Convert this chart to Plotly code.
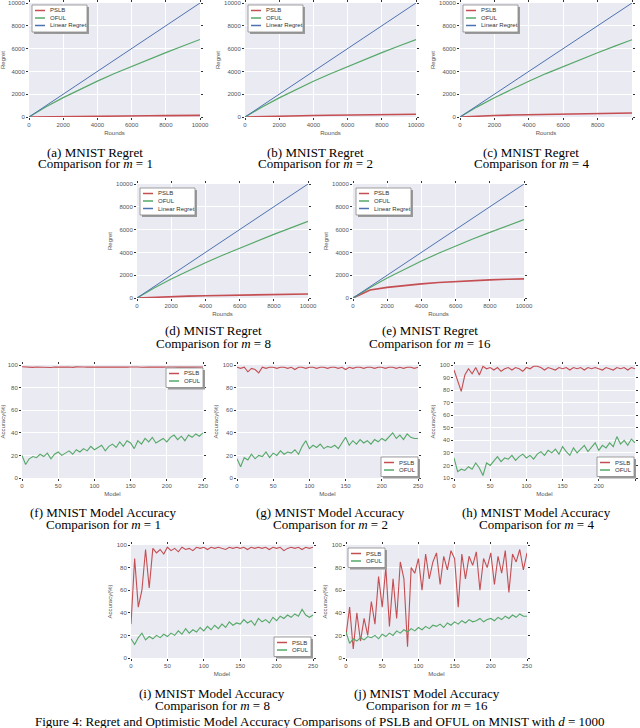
import plotly.graph_objects as go

W, H = 640, 728

# ---- regret data (rounds 0..10000) ----
rounds = [0, 1000, 2000, 3000, 4000, 5000, 6000, 7000, 8000, 9000, 10000]
linear_regret = [0, 1000, 2000, 3000, 4000, 5000, 6000, 7000, 8000, 9000, 10000]

pslb_regret_m1 = [0, 25, 45, 60, 75, 88, 100, 110, 120, 130, 140]
pslb_regret_m2 = [0, 50, 85, 110, 135, 155, 175, 195, 210, 225, 240]
pslb_regret_m4 = [0, 80, 130, 170, 205, 235, 262, 288, 312, 335, 355]
pslb_regret_m8 = [0, 75, 125, 165, 200, 230, 258, 283, 307, 330, 350]
pslb_regret_m16 = [0, 700, 930, 1100, 1240, 1360, 1450, 1530, 1590, 1640, 1680]

oful_regret_m1 = [0, 900, 1700, 2450, 3150, 3820, 4450, 5060, 5650, 6230, 6800]
oful_regret_m2 = [0, 880, 1680, 2430, 3130, 3800, 4440, 5050, 5650, 6230, 6790]
oful_regret_m4 = [0, 890, 1690, 2440, 3140, 3810, 4440, 5050, 5640, 6220, 6780]
oful_regret_m8 = [0, 880, 1660, 2400, 3090, 3750, 4380, 4990, 5580, 6150, 6720]
oful_regret_m16 = [0, 930, 1760, 2530, 3250, 3920, 4560, 5170, 5760, 6330, 6870]

# ---- model accuracy data (every 5th model, 0..250) ----
models = [0, 5, 10, 15, 20, 25, 30, 35, 40, 45,
          50, 55, 60, 65, 70, 75, 80, 85, 90, 95,
          100, 105, 110, 115, 120, 125, 130, 135, 140, 145,
          150, 155, 160, 165, 170, 175, 180, 185, 190, 195,
          200, 205, 210, 215, 220, 225, 230, 235, 240, 245,
          250]

pslb_acc_m1 = [98.4, 98.1, 98.3, 97.9, 98.2, 98.0, 98.3, 98.1, 97.8, 98.2,
               98.0, 98.3, 98.1, 98.2, 97.9, 98.3, 98.0, 98.2, 98.1, 98.3,
               98.0, 98.2, 98.1, 97.9, 98.3, 98.1, 98.2, 98.0, 98.3, 98.1,
               98.2, 97.9, 98.2, 98.0, 98.3, 98.1, 98.2, 98.0, 98.3, 98.1,
               98.2, 97.9, 98.2, 98.1, 98.3, 98.0, 98.2, 98.1, 98.3, 98.0,
               98.2]
oful_acc_m1 = [20, 12, 17, 19, 18, 21, 19, 22, 17, 21,
               23, 20, 22, 24, 21, 25, 23, 26, 24, 28,
               25, 27, 29, 24, 28, 30, 27, 32, 28, 33,
               31, 26, 33, 30, 35, 32, 36, 31, 33, 35,
               32, 36, 38, 34, 37, 33, 38, 36, 39, 37,
               40]

pslb_acc_m2 = [98, 97, 98, 94, 97, 96, 93, 98, 97, 98,
               98, 97, 98, 98, 97, 98, 96, 98, 98, 97,
               98, 98, 97, 98, 98, 97, 98, 98, 97, 98,
               96, 98, 97, 98, 98, 97, 98, 98, 97, 98,
               98, 97, 98, 98, 97, 98, 97, 98, 98, 97,
               98]
oful_acc_m2 = [17, 10, 18, 16, 21, 17, 20, 19, 23, 18,
               22, 20, 24, 21, 23, 22, 25, 21, 28, 33,
               26, 29, 27, 30, 26, 28, 27, 29, 26, 31,
               36, 29, 33, 30, 34, 31, 33, 30, 34, 32,
               35, 33, 37, 40, 35, 38, 34, 39, 36, 35,
               35]

pslb_acc_m4 = [96, 88, 79, 92, 97, 93, 98, 92, 99, 97,
               98, 96, 98, 95, 97, 98, 96, 98, 97, 95,
               98, 97, 99, 99, 98, 96, 98, 97, 96, 98,
               97, 98, 96, 98, 97, 98, 96, 98, 97, 98,
               97, 96, 98, 97, 96, 98, 97, 98, 96, 98,
               97]
oful_acc_m4 = [26, 15, 17, 16, 19, 17, 22, 18, 12, 22,
               20, 24, 27, 23, 26, 25, 28, 24, 27, 29,
               26, 28, 25, 29, 31, 28, 32, 30, 33, 29,
               35, 31, 28, 34, 30, 33, 36, 31, 35, 38,
               32, 36, 34, 38, 35, 43, 37, 40, 36, 41,
               38]

pslb_acc_m8 = [30, 88, 45, 60, 96, 62, 97, 93, 96, 92,
               98, 95, 97, 94, 98, 96, 97, 95, 98, 97,
               98, 96, 98, 97, 98, 97, 96, 98, 97, 98,
               97, 98, 96, 98, 97, 98, 97, 98, 96, 98,
               97, 98, 95, 97, 98, 97, 98, 96, 98, 97,
               98]
oful_acc_m8 = [17, 12, 18, 22, 16, 19, 17, 20, 18, 21,
               19, 22, 20, 24, 21, 26, 22, 25, 23, 27,
               24, 28, 25, 29, 26, 30, 27, 32, 29, 31,
               30, 34, 31, 33, 29, 35, 32, 34, 31, 36,
               33, 37, 35, 38, 36, 39, 37, 43, 38, 36,
               38]

pslb_acc_m16 = [20, 45, 8, 40, 15, 35, 20, 50, 30, 72,
                45, 80, 28, 70, 35, 85, 70, 10, 80, 75,
                88, 60, 92, 70, 85, 93, 65, 90, 78, 95,
                88, 45, 92, 70, 90, 82, 94, 60, 88, 80,
                93, 65, 90, 75, 95, 58, 92, 85, 96, 78,
                93]
oful_acc_m16 = [23, 13, 17, 15, 18, 16, 19, 18, 20, 17,
                21, 19, 22, 20, 24, 22, 25, 23, 26, 24,
                27, 25, 28, 26, 29, 28, 30, 27, 31, 29,
                32, 30, 33, 31, 34, 32, 33, 35, 32, 34,
                35, 33, 36, 34, 37, 35, 38, 36, 39, 37,
                37]

RED, GREEN, BLUE = '#C44E52', '#55A868', '#4C72B0'
TICK_FONT = dict(size=6, color='#555', family='Liberation Sans')
CAP_FONT = dict(size=13, color='black', family='Liberation Serif')


def fx(p):
    return p / W


def fy(p):
    return 1 - p / H


def axis_style(**kw):
    d = dict(showgrid=True, gridcolor='white', gridwidth=1, zeroline=False,
             showline=False, ticks='outside', ticklen=2, tickwidth=1,
             tickcolor='#333', mirror='ticks', tickfont=TICK_FONT,
             title_font=TICK_FONT, title_standoff=3, automargin=False)
    d.update(kw)
    return d


def caption(fig, x, y, text):
    fig.add_annotation(x=fx(x), y=fy(y), xref='paper', yref='paper', showarrow=False,
                       text=text, font=CAP_FONT, xanchor='center', yanchor='middle')


def add_legend(fig, left, top, width, labels, colors):
    """matplotlib-style legend box drawn with shapes"""
    h = 7.5 * len(labels) + 4.5
    fig.add_shape(type='rect', xref='paper', yref='paper',
                  x0=fx(left + 2), x1=fx(left + width + 2), y0=fy(top + h + 2), y1=fy(top + 2),
                  fillcolor='#9a9a9a', line=dict(width=0), layer='above')
    fig.add_shape(type='rect', xref='paper', yref='paper',
                  x0=fx(left), x1=fx(left + width), y0=fy(top + h), y1=fy(top),
                  fillcolor='white', line=dict(color='#888', width=0.8), layer='above')
    for i, (lab, col) in enumerate(zip(labels, colors)):
        yc = top + 5.5 + 7.5 * i
        fig.add_shape(type='line', xref='paper', yref='paper',
                      x0=fx(left + 3), x1=fx(left + 13), y0=fy(yc), y1=fy(yc),
                      line=dict(color=col, width=1.5), layer='above')
        fig.add_annotation(x=fx(left + 16), y=fy(yc), xref='paper', yref='paper',
                           text=lab, showarrow=False, xanchor='left', yanchor='middle',
                           font=dict(size=6, color='#333', family='Liberation Sans'))


# (label, m, pslb, oful, left, right, top, bottom, legend pos, caption x, caption y)
regret_panels = [
    ('a', 1, pslb_regret_m1, oful_regret_m1, 29, 200, 3, 117, (32, 5), 95, 152),
    ('b', 2, pslb_regret_m2, oful_regret_m2, 245, 416, 3, 117, (248, 5), 315, 152),
    ('c', 4, pslb_regret_m4, oful_regret_m4, 460, 632, 3, 117, (463, 5), 531, 152),
    ('d', 8, pslb_regret_m8, oful_regret_m8, 137, 308, 184, 298, (140, 188), 213, 331),
    ('e', 16, pslb_regret_m16, oful_regret_m16, 353, 524, 184, 298, (356, 188), 430, 331),
]
acc_panels = [
    ('f', 1, pslb_acc_m1, oful_acc_m1, 22, 203, 365, 478, (166, 368), 103, 512, 0),
    ('g', 2, pslb_acc_m2, oful_acc_m2, 237, 418, 365, 478, (381, 457), 330, 512, 0),
    ('h', 4, pslb_acc_m4, oful_acc_m4, 454, 635, 365, 478, (597, 457), 536, 512, 10),
    ('i', 8, pslb_acc_m8, oful_acc_m8, 131, 313, 545, 658, (274, 637), 212, 693, 0),
    ('j', 16, pslb_acc_m16, oful_acc_m16, 346, 527, 545, 658, (348, 548), 427, 693, 0),
]

fig = go.Figure()
layout = {}
k = 0

for lab, m, pslb, oful, l, r, t, b, lg, cx, cy in regret_panels:
    k += 1
    xa, ya = ('x', 'y') if k == 1 else ('x%d' % k, 'y%d' % k)
    for name, ys, col, wd in [('PSLB', pslb, RED, 1.6), ('OFUL', oful, GREEN, 1.2),
                              ('Linear Regret', linear_regret, BLUE, 1.0)]:
        fig.add_trace(go.Scatter(x=rounds, y=ys, mode='lines', name=name, showlegend=False,
                                 line=dict(color=col, width=wd), xaxis=xa, yaxis=ya))
    sfx = '' if k == 1 else str(k)
    layout['xaxis' + sfx] = axis_style(domain=[fx(l), fx(r)], anchor=ya, range=[0, 10000],
                                      dtick=2000, tickformat='d', title_text='Rounds')
    layout['yaxis' + sfx] = axis_style(domain=[fy(b), fy(t)], anchor=xa, range=[0, 10000],
                                      dtick=2000, tickformat='d', title_text='Regret')
    add_legend(fig, lg[0], lg[1], 55, ['PSLB', 'OFUL', 'Linear Regret'], [RED, GREEN, BLUE])
    caption(fig, cx, cy, '(%s) MNIST Regret' % lab)
    caption(fig, cx, cy + 12, 'Comparison for <i>m</i> = %d' % m)

for lab, m, pslb, oful, l, r, t, b, lg, cx, cy, ymin in acc_panels:
    k += 1
    xa, ya = 'x%d' % k, 'y%d' % k
    for name, ys, col in [('PSLB', pslb, RED), ('OFUL', oful, GREEN)]:
        fig.add_trace(go.Scatter(x=models, y=ys, mode='lines', name=name, showlegend=False,
                                 line=dict(color=col, width=1.1), xaxis=xa, yaxis=ya))
    layout['xaxis%d' % k] = axis_style(domain=[fx(l), fx(r)], anchor=ya, range=[0, 250],
                                       dtick=50, title_text='Model')
    layout['yaxis%d' % k] = axis_style(domain=[fy(b), fy(t)], anchor=xa, range=[ymin, 100],
                                       dtick=10 if ymin else 20, title_text='Accuracy(%)')
    add_legend(fig, lg[0], lg[1], 37, ['PSLB', 'OFUL'], [RED, GREEN])
    caption(fig, cx, cy, '(%s) MNIST Model Accuracy' % lab)
    caption(fig, cx, cy + 12, 'Comparison for <i>m</i> = %d' % m)

caption(fig, 320, 721, 'Figure 4: Regret and Optimistic Model Accuracy Comparisons of PSLB and OFUL '
                       'on MNIST with <i>d</i> = 1000')

fig.update_layout(
    width=W, height=H, autosize=False,
    margin=dict(l=0, r=0, t=0, b=0),
    paper_bgcolor='white', plot_bgcolor='#EAEAF2',
    showlegend=False,
    **layout
)

# page body has a default 8px margin; drop it so the figure sits at the window corner
fig.write_html("out.html", config={'displayModeBar': False},
               post_script="document.body.style.margin='0px';")
